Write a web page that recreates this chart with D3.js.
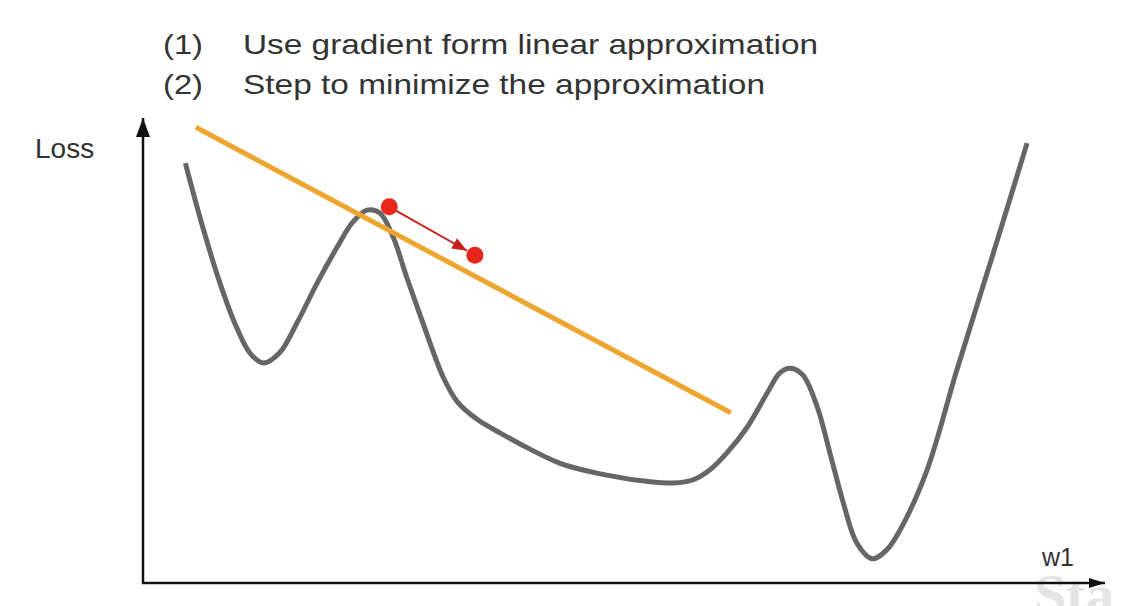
<!DOCTYPE html>
<html>
<head>
<meta charset="utf-8">
<script src="https://cdn.jsdelivr.net/npm/d3@7"></script>
<style>
  body { margin: 0; background: #fff; }
  text { font-family: "Liberation Sans", Arial, sans-serif; }
</style>
</head>
<body>
<svg id="chart"></svg>
<script>
const svgWidth = 1124,
    svgHeight = 606;

// loss curve, in (w1, loss) units
const curveW = [0.44, 0.62, 0.80, 0.97, 1.11, 1.25, 1.42, 1.60, 1.81, 2.02, 2.18, 2.33, 2.46, 2.60, 2.74, 2.91, 3.12, 3.27, 3.48, 3.71, 3.92, 4.33, 4.82, 5.30, 5.51, 5.72, 5.89, 6.07, 6.28, 6.49, 6.62, 6.73, 6.86, 7.01, 7.14, 7.28, 7.42, 7.58, 7.73, 7.87, 8.15, 8.46, 8.84, 9.19];
const curveLoss = [9.03, 7.66, 6.45, 5.51, 4.95, 4.73, 4.95, 5.59, 6.45, 7.23, 7.76, 8.02, 7.96, 7.44, 6.58, 5.59, 4.43, 3.89, 3.51, 3.23, 2.99, 2.58, 2.32, 2.17, 2.15, 2.22, 2.43, 2.80, 3.35, 4.09, 4.52, 4.62, 4.47, 3.78, 2.80, 1.72, 0.86, 0.52, 0.71, 1.14, 2.43, 4.58, 7.10, 9.46];

// linear approximation (tangent) endpoints
const tangentW = [0.55, 6.11];
const tangentLoss = [9.80, 3.66];

// step: start point, end point
const stepW = [2.56, 3.45];
const stepLoss = [8.09, 7.05];

const titleLabels = ["(1)", "(2)"];
const titleLines = ["Use gradient form linear approximation", "Step to minimize the approximation"];
const titleLengths = [575, 522];
const xLabel = "w1", yLabel = "Loss";

const chart = d3.select('#chart')
    .attr("width", svgWidth)
    .attr("height", svgHeight);

var xScale = d3.scaleLinear().domain([0, 10]).range([143, 1105]);
var yScale = d3.scaleLinear().domain([0, 10]).range([583, 118]);

const defs = chart.append("defs");
function marker(id, len, half, color) {
    defs.append("marker")
        .attr("id", id)
        .attr("markerUnits", "userSpaceOnUse")
        .attr("viewBox", `0 ${-half} ${len} ${half * 2}`)
        .attr("refX", len).attr("refY", 0)
        .attr("markerWidth", len).attr("markerHeight", half * 2)
        .attr("orient", "auto")
        .append("path")
        .attr("d", `M0,${-half}L${len},0L0,${half}Z`)
        .attr("fill", color);
}
marker("arrY", 19, 7, "#111");
marker("arrX", 16, 5, "#111");
marker("arrStep", 15, 6, "#c8201c");

// watermark fragment
chart.append("text")
    .attr("x", 1034).attr("y", 614)
    .style("font-family", "'Liberation Serif', serif")
    .style("font-weight", "bold")
    .style("font-size", "58px")
    .style("fill", "#e4e4e4")
    .text("Sta");

// axes
chart.append("line")
    .attr("x1", xScale(0)).attr("y1", yScale(0))
    .attr("x2", xScale(0)).attr("y2", yScale(10))
    .attr("stroke", "#111").attr("stroke-width", 2.5)
    .attr("marker-end", "url(#arrY)");
chart.append("line")
    .attr("x1", xScale(0) - 1).attr("y1", yScale(0))
    .attr("x2", xScale(10)).attr("y2", yScale(0))
    .attr("stroke", "#111").attr("stroke-width", 2.5)
    .attr("marker-end", "url(#arrX)");

chart.append("text")
    .attr("x", 35).attr("y", 158)
    .style("font-size", "28px").style("fill", "#333")
    .text(yLabel);
chart.append("text")
    .attr("x", 1042).attr("y", 566)
    .style("font-size", "25px").style("fill", "#333")
    .text(xLabel);

// loss curve
const curveData = curveW.map((w, i) => ({w: w, loss: curveLoss[i]}));
var valueline = d3.line()
    .x(function(d){ return xScale(d.w); })
    .y(function(d){ return yScale(d.loss); })
    .curve(d3.curveCatmullRom.alpha(0.5));

chart.append("path")
    .datum(curveData)
    .attr("d", valueline)
    .attr("fill", "none")
    .attr("stroke", "#666")
    .attr("stroke-width", 5)
    .attr("stroke-linejoin", "round");

// tangent line
chart.append("line")
    .attr("x1", xScale(tangentW[0])).attr("y1", yScale(tangentLoss[0]))
    .attr("x2", xScale(tangentW[1])).attr("y2", yScale(tangentLoss[1]))
    .attr("stroke", "#eea530")
    .attr("stroke-width", 5);

// step arrow
const dx = xScale(stepW[1]) - xScale(stepW[0]),
    dy = yScale(stepLoss[1]) - yScale(stepLoss[0]),
    dist = Math.sqrt(dx * dx + dy * dy);
const shorten = 9;
chart.append("line")
    .attr("x1", xScale(stepW[0])).attr("y1", yScale(stepLoss[0]))
    .attr("x2", xScale(stepW[1]) - dx / dist * shorten)
    .attr("y2", yScale(stepLoss[1]) - dy / dist * shorten)
    .attr("stroke", "#c8201c")
    .attr("stroke-width", 2)
    .attr("marker-end", "url(#arrStep)");

chart.selectAll(".dot")
    .data(stepW.map((w, i) => ({w: w, loss: stepLoss[i]})))
    .enter()
    .append("circle")
    .attr("class", "dot")
    .attr("cx", d => xScale(d.w))
    .attr("cy", d => yScale(d.loss))
    .attr("r", 8.5)
    .attr("fill", "#e8261c");

// title lines
titleLabels.forEach(function(lab, i) {
    chart.append("text")
        .attr("x", 163).attr("y", 54 + i * 40)
        .attr("textLength", 40).attr("lengthAdjust", "spacingAndGlyphs")
        .style("font-size", "28px").style("fill", "#333")
        .text(lab);
    chart.append("text")
        .attr("x", 243).attr("y", 54 + i * 40)
        .attr("textLength", titleLengths[i]).attr("lengthAdjust", "spacingAndGlyphs")
        .style("font-size", "28px").style("fill", "#333")
        .text(titleLines[i]);
});
</script>
</body>
</html>
